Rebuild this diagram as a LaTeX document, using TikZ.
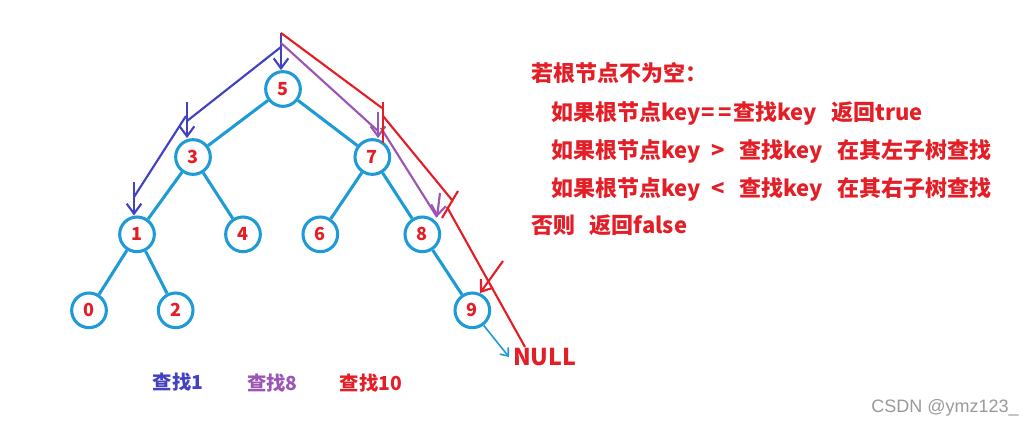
\documentclass[tikz,border=0pt]{standalone}
\usepackage{fontspec}
\newfontfamily\cjk{Noto Sans CJK SC}
\newfontfamily\wmfont{Liberation Sans}
\usetikzlibrary{positioning}
\usetikzlibrary{arrows.meta}

\definecolor{treeblue}{RGB}{30,155,215}
\definecolor{findblue}{RGB}{65,65,195}
\definecolor{findpurple}{RGB}{155,85,180}
\definecolor{findred}{RGB}{228,30,38}

\tikzset{
  key/.style={circle, draw=treeblue, line width=2.3pt, minimum size=26pt, inner sep=0pt,
    text=findred, font=\cjk\bfseries\fontsize{13.5}{14}\selectfont},
  branch/.style={draw=treeblue, line width=2.3pt},
  walk/.style={line width=1.6pt},
  barb/.style={-{Straight Barb[length=7.5pt,width=11pt]}},
  rulenote/.style={anchor=base west, inner sep=0pt, text=findred,
    font=\cjk\bfseries\fontsize{16.5}{20}\selectfont},
  findnote/.style={inner sep=0pt, font=\cjk\bfseries\fontsize{14.5}{16}\selectfont},
}

\begin{document}
\begin{tikzpicture}[x=0.75pt, y=-0.75pt, on grid]
    \useasboundingbox (0,0) rectangle (1036,429);
    % the tree
    \node[key] (n5) at (283,89) {5} ; %
    \node[key, below left=51pt and 67.5pt of n5] (n3) {3} ; %
    \node[key, below right=51pt and 67pt of n5] (n7) {7} ; %
    \node[key, below left=58pt and 42pt of n3] (n1) {1} ; %
    \node[key, below right=58pt and 37.5pt of n3] (n4) {4} ; %
    \node[key, below left=58pt and 39pt of n7] (n6) {6} ; %
    \node[key, below right=58pt and 37.5pt of n7] (n8) {8} ; %
    \node[key, below left=57pt and 36pt of n1] (n0) {0} ; %
    \node[key, below right=57pt and 29pt of n1] (n2) {2} ; %
    \node[key, below right=57pt and 37.5pt of n8] (n9) {9} ; %
    \draw[branch] (n5) -- (n3); \draw[branch] (n5) -- (n7);
    \draw[branch] (n3) -- (n1); \draw[branch] (n3) -- (n4);
    \draw[branch] (n7) -- (n6); \draw[branch] (n7) -- (n8);
    \draw[branch] (n1) -- (n0); \draw[branch] (n1) -- (n2);
    \draw[branch] (n8) -- (n9);
    \node[anchor=west, inner sep=3pt, text=findred,
      font=\cjk\bfseries\fontsize{17.4}{20}\selectfont] (null) at (509,357) {NULL} ; %
    \draw[treeblue, line width=1.2pt, -{Straight Barb[length=5pt,width=8pt]}] (n9.-53) -- (null.west);

    % search paths
    \coordinate (p0) at (281,33);
    \coordinate (b1) at (281,47); \coordinate (b2) at (187,121);
    \coordinate (b3) at (187,102); \coordinate (b4) at (186,116);
    \coordinate (b5) at (134,197); \coordinate (b6) at (134,182);
    \draw[walk, findblue, barb] (p0) -- (p0 |- n5.north);
    \draw[walk, findblue] (b1) -- (b2);
    \draw[walk, findblue, barb] (b3) -- (b3 |- n3.north);
    \draw[walk, findblue] (b4) -- (b5);
    \draw[walk, findblue, barb] (b6) -- (b6 |- n1.north);

    \coordinate (u1) at (281,43); \coordinate (u2) at (378,131);
    \coordinate (u3) at (378,112); \coordinate (u4) at (381,128);
    \coordinate (u5) at (440,193); \coordinate (u6) at (437,217);
    \draw[walk, findpurple] (u1) -- (u2);
    \draw[walk, findpurple, barb] (u3) -- (u3 |- n7.north);
    \draw[walk, findpurple] (u4) -- (u6);
    \draw[walk, findpurple, barb] (u5) -- (u6);

    \coordinate (r1) at (382,108);
    \coordinate (r2) at (383,102); \coordinate (r3) at (383,143);
    \coordinate (r4) at (383,116); \coordinate (r5) at (452,200);
    \coordinate (r6) at (458,191); \coordinate (r7) at (442,218);
    \coordinate (r8) at (447,207); \coordinate (r9) at (525,347);
    \coordinate (r10) at (503,261);
    \draw[walk, findred] (p0) -- (r1);
    \draw[walk, findred] (r2) -- (r3);
    \draw[walk, findred] (r4) -- (r5);
    \draw[walk, findred] (r6) -- (r7);
    \draw[walk, findred] (r8) -- (r9);
    \draw[walk, findred, barb] (r10) -- (n9.66);

    % labels
    \node[findnote, text=findblue] (f1) at (178,382) {查找1} ; %
    \node[findnote, text=findpurple] (f8) at (272.5,383) {查找8} ; %
    \node[findnote, text=findred] (f10) at (371,383) {查找10} ; %

    \node[rulenote] (t1) at (531,81) {若根节点不为空：} ; %
    \node[rulenote] (t2) at (551,120) {如果根节点key\hspace{1pt}=\hspace{2.5pt}=\hspace{1pt}查找key\hspace{11pt}返回true} ; %
    \node[rulenote] (t3) at (551,158) {如果根节点key\hspace{8pt}>\hspace{11pt}查找key\hspace{11pt}在其左子树查找} ; %
    \node[rulenote] (t4) at (551,196) {如果根节点key\hspace{8pt}<\hspace{11pt}查找key\hspace{11pt}在其右子树查找} ; %
    \node[rulenote] (t5) at (531,233) {否则\hspace{11pt}返回false} ; %

    \node[anchor=west, inner sep=0pt, text=black!40, font=\wmfont\fontsize{13.5}{15}\selectfont]
      (wm) at (871,408) {CSDN @ymz123\_} ; %
\end{tikzpicture}
\end{document}
